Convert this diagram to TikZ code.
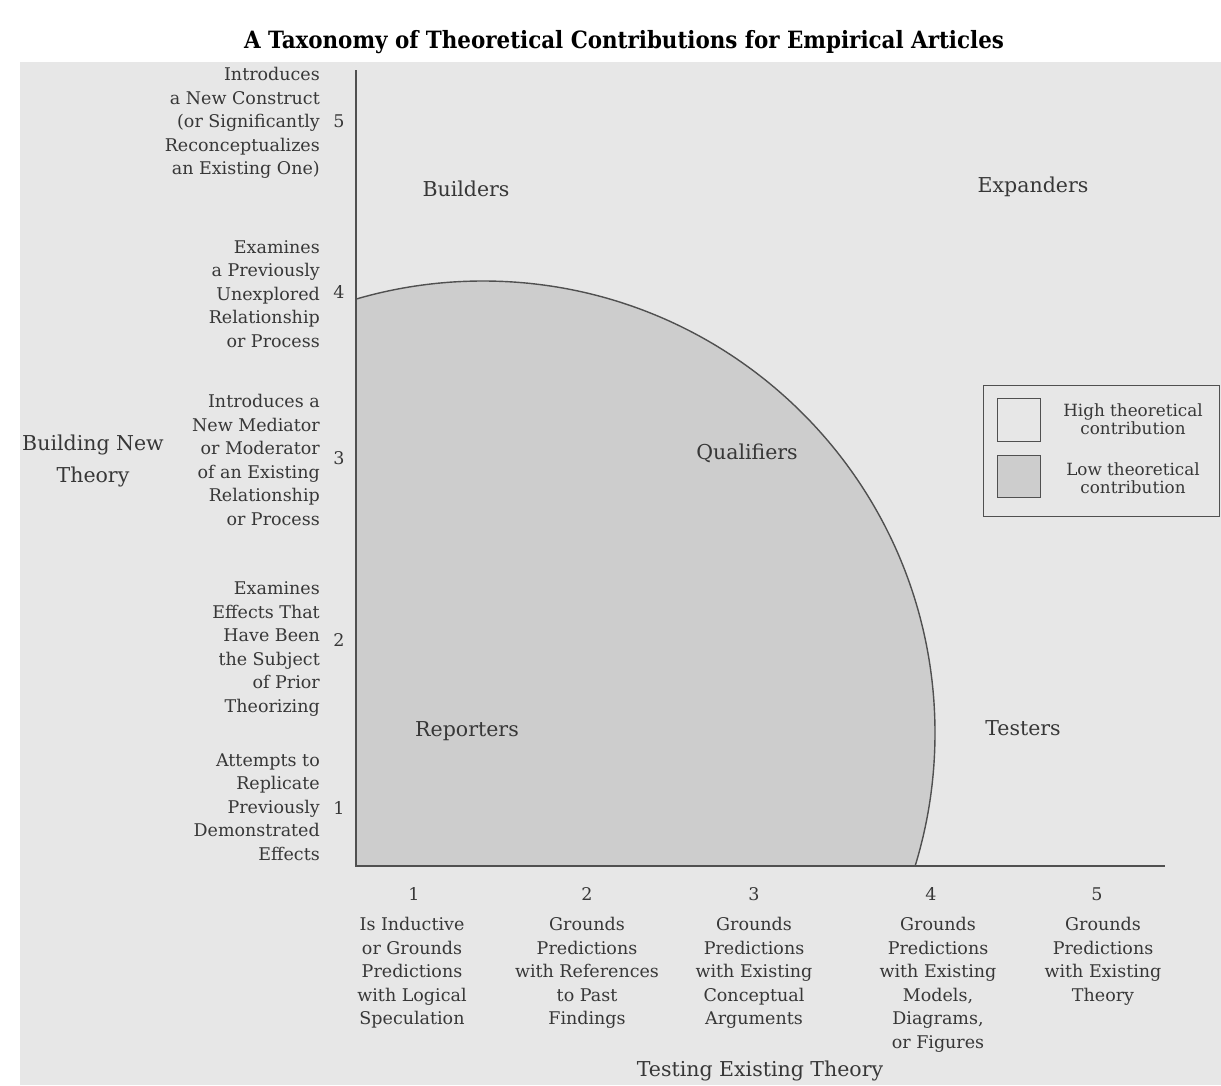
\documentclass[tikz,border=0pt]{standalone}
\usepackage{fontspec}
\setmainfont{DejaVu Serif}
\newfontfamily\titlefont{DejaVu Serif Condensed}
\definecolor{paper}{RGB}{231,231,231}
\definecolor{shadegray}{RGB}{205,205,205}
\definecolor{ink}{RGB}{55,55,55}
\definecolor{rulegray}{RGB}{80,80,80}
\begin{document}
\begin{tikzpicture}[x=1pt,y=-1pt,
  lbl/.style={inner sep=0pt, text=ink, font=\fontsize{17.5}{23.5}\selectfont},
  leftlbl/.style={lbl, align=right, anchor=east},
  botlbl/.style={lbl, align=center, anchor=north},
  numlbl/.style={lbl},
  catlbl/.style={inner sep=0pt, text=ink, font=\fontsize{20.5}{32}\selectfont, align=center},
  leglbl/.style={inner sep=0pt, text=ink, font=\fontsize{16.8}{18}\selectfont, align=center},
  axisline/.style={draw=rulegray, line width=1.8pt},
  arcline/.style={draw=rulegray, line width=1.4pt},
  swatch/.style={draw=rulegray, line width=1pt}]
\useasboundingbox (0,0) rectangle (1221,1085);
\fill[white] (0,0) rectangle (1221,1085);
\fill[paper] (20,62) rectangle (1221,1085);

% title
\node[inner sep=0pt, font=\titlefont\bfseries\fontsize{23.8}{26}\selectfont, text=black] (title) at (624,42) {A Taxonomy of Theoretical Contributions for Empirical Articles};

% axes coordinates
\coordinate (O) at (356,866);
\coordinate (ytop) at (356,70);
\coordinate (xend) at (1165,866);
\coordinate (cc) at (483,733);

% shaded region
\begin{scope}
  \clip (O) rectangle (1170,60);
  \fill[shadegray] (cc) circle (452);
  \draw[arcline] (cc) circle (452);
\end{scope}
\draw[axisline] (ytop) -- (O) -- (xend);

% category labels
\node[catlbl] (builders) at (466,189) {Builders};
\node[catlbl] (expanders) at (1033,187) {Expanders};
\node[catlbl] (qualifiers) at (747,453) {Qualifiers};
\node[catlbl] (reporters) at (467,731) {Reporters};
\node[catlbl] (testers) at (1023,728) {Testers};
\node[catlbl] (ylabel) at (93,461) {Building New\\Theory};
\node[catlbl] (xlabel) at (760,1071) {Testing Existing Theory};

% y-axis labels
\node[leftlbl] (y5) at (320,123) {Introduces\\a New Construct\\(or Significantly\\Reconceptualizes\\an Existing One)};
\node[leftlbl] (y4) at (320,294) {Examines\\a Previously\\Unexplored\\Relationship\\or Process};
\node[leftlbl] (y3) at (320,460) {Introduces a\\New Mediator\\or Moderator\\of an Existing\\Relationship\\or Process};
\node[leftlbl] (y2) at (320,649) {Examines\\Effects That\\Have Been\\the Subject\\of Prior\\Theorizing};
\node[leftlbl] (y1) at (320,807) {Attempts to\\Replicate\\Previously\\Demonstrated\\Effects};
\node[numlbl] (n5) at (339,121) {5};
\node[numlbl] (n4) at (339,292) {4};
\node[numlbl] (n3) at (339,458) {3};
\node[numlbl] (n2) at (339,640) {2};
\node[numlbl] (n1) at (339,808) {1};

% x-axis labels
\node[numlbl] (m1) at (414,894) {1};
\node[numlbl] (m2) at (587,894) {2};
\node[numlbl] (m3) at (754,894) {3};
\node[numlbl] (m4) at (931,894) {4};
\node[numlbl] (m5) at (1097,894) {5};
\node[botlbl] (x1) at (412,917) {Is Inductive\\or Grounds\\Predictions\\with Logical\\Speculation};
\node[botlbl] (x2) at (587,917) {Grounds\\Predictions\\with References\\to Past\\Findings};
\node[botlbl] (x3) at (754,917) {Grounds\\Predictions\\with Existing\\Conceptual\\Arguments};
\node[botlbl] (x4) at (938,917) {Grounds\\Predictions\\with Existing\\Models,\\Diagrams,\\or Figures};
\node[botlbl] (x5) at (1103,917) {Grounds\\Predictions\\with Existing\\Theory};

% legend
\draw[swatch] (983,385) rectangle (1219,516);
\draw[swatch, fill=paper] (997,398) rectangle (1040,441);
\draw[swatch, fill=shadegray] (997,455) rectangle (1040,497);
\node[leglbl] (hi) at (1133,419) {High theoretical\\contribution};
\node[leglbl] (lo) at (1133,478) {Low theoretical\\contribution};
\end{tikzpicture}
\end{document}
